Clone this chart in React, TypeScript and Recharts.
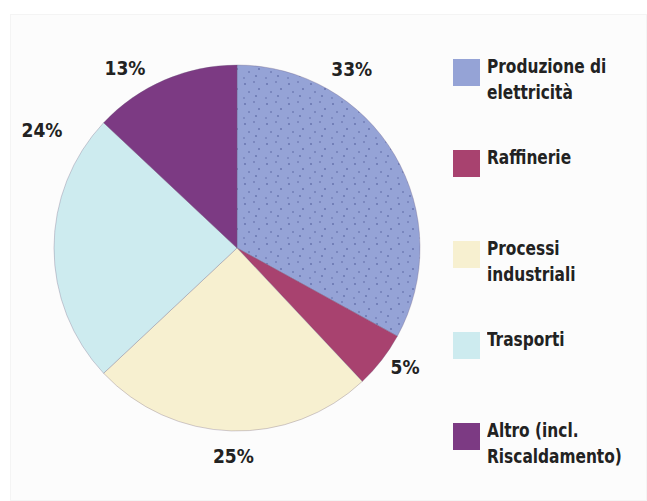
import React from "react";
import { PieChart, Pie, Cell, Legend } from "recharts";

if (typeof document !== "undefined") {
  document.body.style.margin = "0";
}

const categories = [
  "Produzione di elettricità",
  "Raffinerie",
  "Processi industriali",
  "Trasporti",
  "Altro (incl. Riscaldamento)",
];
const legendLines = [
  ["Produzione di", "elettricità"],
  ["Raffinerie"],
  ["Processi", "industriali"],
  ["Trasporti"],
  ["Altro (incl.", "Riscaldamento)"],
];
const shares = [33, 5, 25, 24, 13];
const colors = ["url(#dots)", "#A8426F", "#F7F0D0", "#CDEBEF", "#7C3A83"];
const legendColors = ["#95A3D6", "#A8426F", "#F7F0D0", "#CDEBEF", "#7C3A83"];

// label placement tweaks (compass degrees shift, radius)
const labelShift = [-26.8, -2.5, -0.8, 31.2, -8.5];
const labelRadius = [213, 206, 208, 228, 212];

const data = categories.map((name, i) => ({ name, value: shares[i] }));

const FONT = "'Liberation Sans Narrow', 'DejaVu Sans Condensed', 'Liberation Sans', sans-serif";
const RAD = Math.PI / 180;

const renderLabel = (props: any) => {
  const { cx, cy, midAngle, index, value } = props;
  const compass = 90 - midAngle + labelShift[index];
  const r = labelRadius[index];
  const x = cx + r * Math.sin(compass * RAD);
  const y = cy - r * Math.cos(compass * RAD);
  return (
    <text
      x={x}
      y={y}
      textAnchor="middle"
      dominantBaseline="central"
      fill="#222"
      fontFamily={FONT}
      fontWeight="bold"
      fontSize={19}
    >
      {value}%
    </text>
  );
};

const renderLegend = () => (
  <div style={{ fontFamily: FONT, fontWeight: "bold", fontSize: 19, color: "#222" }}>
    {legendLines.map((lines, i) => (
      <div key={i} style={{ position: "relative", height: 91 }}>
        <div
          style={{
            position: "absolute",
            left: 0,
            top: 0,
            width: 27,
            height: 27,
            background: legendColors[i],
          }}
        />
        <div
          style={{
            position: "absolute",
            left: 34,
            top: -6,
            lineHeight: "26px",
            whiteSpace: "nowrap",
            transform: "scaleX(0.9)",
            transformOrigin: "0 0",
          }}
        >
          {lines.map((l, j) => (
            <div key={j}>{l}</div>
          ))}
        </div>
      </div>
    ))}
  </div>
);

export default function App() {
  return (
    <div style={{ width: 647, height: 501, background: "#fff", position: "relative" }}>
      <div
        style={{
          position: "absolute",
          left: 10,
          top: 14,
          right: 0,
          bottom: 0,
          background: "#fcfcfc",
          border: "1px solid #f4f4f4",
        }}
      />
      <div style={{ position: "absolute", left: 0, top: 0 }}>
        <PieChart width={647} height={501} margin={{ top: 0, right: 0, bottom: 0, left: 0 }}>
          <defs>
            <pattern id="dots" width="22" height="20" patternUnits="userSpaceOnUse">
              <rect width="22" height="20" fill="#95A3D6" />
              <circle cx="3" cy="4" r="1.1" fill="#5c68a4" opacity="0.75" />
              <circle cx="12" cy="2" r="1" fill="#5c68a4" opacity="0.6" />
              <circle cx="17" cy="9" r="1.1" fill="#5c68a4" opacity="0.75" />
              <circle cx="7" cy="12" r="1" fill="#5c68a4" opacity="0.65" />
              <circle cx="14" cy="16" r="1.1" fill="#5c68a4" opacity="0.7" />
              <circle cx="2" cy="18" r="0.9" fill="#5c68a4" opacity="0.6" />
            </pattern>
          </defs>
          <Pie
            data={data}
            dataKey="value"
            nameKey="name"
            cx={237}
            cy={248}
            outerRadius={183}
            startAngle={90}
            endAngle={-270}
            stroke="#6a5a7a"
            strokeOpacity={0.3}
            strokeWidth={1}
            label={renderLabel}
            labelLine={false}
            isAnimationActive={false}
          >
            {data.map((d, i) => (
              <Cell key={d.name} fill={colors[i]} />
            ))}
          </Pie>
          <Legend
            layout="vertical"
            align="right"
            verticalAlign="top"
            content={renderLegend}
            wrapperStyle={{ position: "absolute", left: 453, top: 59, width: 194 }}
          />
        </PieChart>
      </div>
    </div>
  );
}
